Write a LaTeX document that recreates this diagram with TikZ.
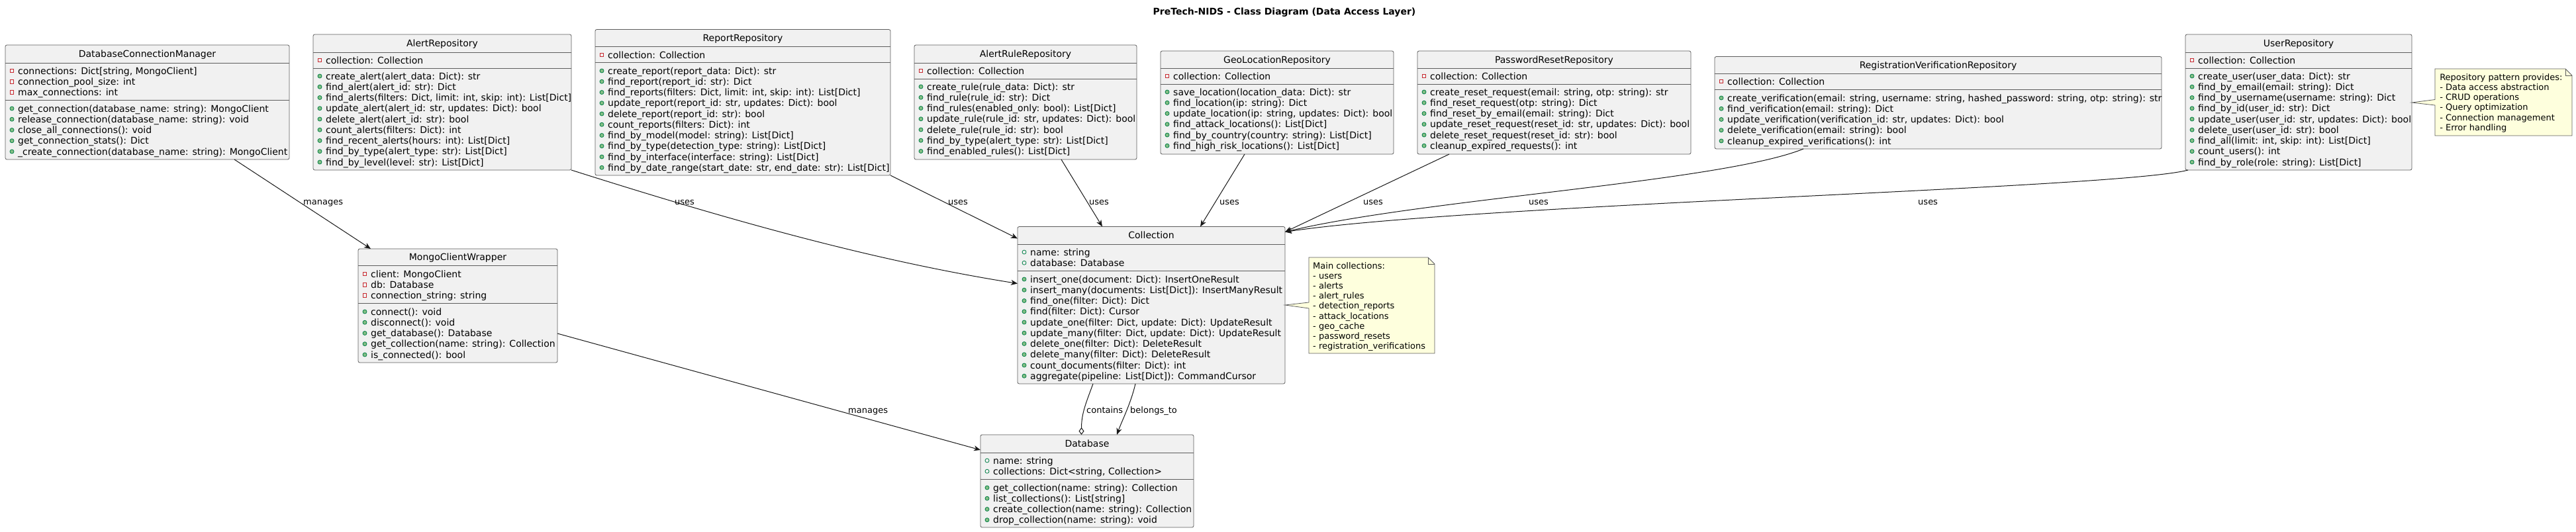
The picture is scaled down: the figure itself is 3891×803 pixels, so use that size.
\documentclass[tikz,border=0pt]{standalone}
\usepackage{fontspec}
\setmainfont{DejaVu Sans}
\usetikzlibrary{arrows.meta,calc}
\definecolor{classfill}{HTML}{F1F1F1}
\definecolor{classline}{HTML}{181818}
\definecolor{notefill}{HTML}{FEFFDD}
\definecolor{privred}{HTML}{C82930}
\definecolor{pubfill}{HTML}{84BE84}
\definecolor{publine}{HTML}{038048}
\catcode`\_=12
\tikzset{
  classbox/.style={rectangle, draw=classline!70, fill=classfill, line width=0.8pt, rounded corners=2.5pt, inner sep=0pt, outer sep=0pt},
  sepline/.style={draw=classline!70, line width=0.8pt},
  classtitle/.style={font=\fontsize{14}{16}\selectfont, inner sep=0pt, anchor=base},
  member/.style={font=\fontsize{14}{16}\selectfont, inner sep=0pt, anchor=base west},
  privicon/.style={draw=privred, line width=0.8pt},
  pubmicon/.style={draw=publine, fill=pubfill, line width=0.8pt},
  pubficon/.style={draw=publine, line width=0.8pt},
  rel/.style={draw=classline, line width=1pt, -{Stealth[length=10pt,width=8pt,inset=3pt]}},
  agg/.style={draw=classline, line width=1pt, -{Diamond[open,length=11pt,width=8pt]}},
  rellabel/.style={font=\fontsize{13}{15}\selectfont, inner sep=0pt, anchor=base west},
  notebox/.style={draw=classline!70, fill=notefill, line width=0.8pt},
  notetext/.style={font=\fontsize{13}{15}\selectfont, inner sep=0pt, anchor=base west},
}
\newcommand\iconpriv[2]{\draw[privicon] ({#1-2.75},{#2-2.75}) rectangle ({#1+2.75},{#2+2.75});}
\newcommand\iconpubm[2]{\draw[pubmicon] ({#1},{#2}) circle[radius=3];}
\newcommand\iconpubf[2]{\draw[pubficon] ({#1},{#2}) circle[radius=3];}
\newcommand\umlclass[8]{%
  \node[classbox, minimum width={(#4)-(#2)}, minimum height={(#7)-(#3)}, anchor=north west] (#1) at (#2,#3) {};
  \draw[sepline] (#2,#5) -- (#4,#5);
  \draw[sepline] (#2,#6) -- (#4,#6);
  \node[classtitle] (#1-title) at ({((#2)+(#4))/2},{((#3)+(#5))/2+5}) {#8};
}
\newcommand\members[5]{%
  \foreach \tx [count=\i] in {#5} {%
    \pgfmathsetmacro\yy{(#3)+(\i-1)*16.25}%
    \pgfmathsetmacro\xx{(#2)+10}%
    #4{\xx}{\yy}%
    \node[member] (#1-\i) at ({(#2)+19},{\yy+5}) {\tx};%
  }%
}
\newcommand\notelines[5]{%
  \foreach \tx [count=\i] in {#5} {%
    \node[notetext] (#1-\i) at ({#2},{(#3)+(\i-1)*(#4)}) {\tx};%
  }%
}
\begin{document}
\begin{tikzpicture}[x=1pt,y=-1pt]
\fill[white] (0,0) rectangle (3891,803);
\useasboundingbox (0,0) rectangle (3891,803);

\node[font=\bfseries\fontsize{14}{16}\selectfont, anchor=base, inner sep=0pt] (title) at (1940,23) {PreTech-NIDS - Class Diagram (Data Access Layer)};

% DatabaseConnectionManager
\umlclass{dcm}{8}{68}{437}{95}{151}{241}{DatabaseConnectionManager}
\members{dcm-a}{8}{107}{\iconpriv}{{connections: Dict[string, MongoClient]},{connection_pool_size: int},{max_connections: int}}
\members{dcm-m}{8}{164}{\iconpubm}{{get_connection(database_name: string): MongoClient},{release_connection(database_name: string): void},{close_all_connections(): void},{get_connection_stats(): Dict},{_create_connection(database_name: string): MongoClient}}

% AlertRepository
\umlclass{alertrepo}{473}{52}{863}{79}{103}{257}{AlertRepository}
\members{alertrepo-a}{473}{91}{\iconpriv}{{collection: Collection}}
\members{alertrepo-m}{473}{115}{\iconpubm}{{create_alert(alert_data: Dict): str},{find_alert(alert_id: str): Dict},{find_alerts(filters: Dict, limit: int, skip: int): List[Dict]},{update_alert(alert_id: str, updates: Dict): bool},{delete_alert(alert_id: str): bool},{count_alerts(filters: Dict): int},{find_recent_alerts(hours: int): List[Dict]},{find_by_type(alert_type: str): List[Dict]},{find_by_level(level: str): List[Dict]}}

% ReportRepository
\umlclass{reportrepo}{899}{44.5}{1345}{70.5}{94.5}{265}{ReportRepository}
\members{reportrepo-a}{899}{83}{\iconpriv}{{collection: Collection}}
\members{reportrepo-m}{899}{107}{\iconpubm}{{create_report(report_data: Dict): str},{find_report(report_id: str): Dict},{find_reports(filters: Dict, limit: int, skip: int): List[Dict]},{update_report(report_id: str, updates: Dict): bool},{delete_report(report_id: str): bool},{count_reports(filters: Dict): int},{find_by_model(model: string): List[Dict]},{find_by_type(detection_type: string): List[Dict]},{find_by_interface(interface: string): List[Dict]},{find_by_date_range(start_date: str, end_date: str): List[Dict]}}

% AlertRuleRepository
\umlclass{rulerepo}{1381}{68}{1717}{95.5}{119}{241}{AlertRuleRepository}
\members{rulerepo-a}{1381}{107}{\iconpriv}{{collection: Collection}}
\members{rulerepo-m}{1381}{131}{\iconpubm}{{create_rule(rule_data: Dict): str},{find_rule(rule_id: str): Dict},{find_rules(enabled_only: bool): List[Dict]},{update_rule(rule_id: str, updates: Dict): bool},{delete_rule(rule_id: str): bool},{find_by_type(alert_type: str): List[Dict]},{find_enabled_rules(): List[Dict]}}

% GeoLocationRepository
\umlclass{georepo}{1753}{77}{2105}{103}{127}{233}{GeoLocationRepository}
\members{georepo-a}{1753}{115}{\iconpriv}{{collection: Collection}}
\members{georepo-m}{1753}{139}{\iconpubm}{{save_location(location_data: Dict): str},{find_location(ip: string): Dict},{update_location(ip: string, updates: Dict): bool},{find_attack_locations(): List[Dict]},{find_by_country(country: string): List[Dict]},{find_high_risk_locations(): List[Dict]}}

% PasswordResetRepository
\umlclass{pwrepo}{2141}{77}{2554}{103}{127}{233}{PasswordResetRepository}
\members{pwrepo-a}{2141}{115}{\iconpriv}{{collection: Collection}}
\members{pwrepo-m}{2141}{139}{\iconpubm}{{create_reset_request(email: string, otp: string): str},{find_reset_request(otp: string): Dict},{find_reset_by_email(email: string): Dict},{update_reset_request(reset_id: str, updates: Dict): bool},{delete_reset_request(reset_id: str): bool},{cleanup_expired_requests(): int}}

% RegistrationVerificationRepository
\umlclass{regrepo}{2590}{85.5}{3265}{111.5}{135}{225}{RegistrationVerificationRepository}
\members{regrepo-a}{2590}{123}{\iconpriv}{{collection: Collection}}
\members{regrepo-m}{2590}{148}{\iconpubm}{{create_verification(email: string, username: string, hashed_password: string, otp: string): str},{find_verification(email: string): Dict},{update_verification(verification_id: str, updates: Dict): bool},{delete_verification(email: string): bool},{cleanup_expired_verifications(): int}}

% UserRepository
\umlclass{userrepo}{3301}{52}{3643}{79}{103}{257}{UserRepository}
\members{userrepo-a}{3301}{91}{\iconpriv}{{collection: Collection}}
\members{userrepo-m}{3301}{115}{\iconpubm}{{create_user(user_data: Dict): str},{find_by_email(email: string): Dict},{find_by_username(username: string): Dict},{find_by_id(user_id: str): Dict},{update_user(user_id: str, updates: Dict): bool},{delete_user(user_id: str): bool},{find_all(limit: int, skip: int): List[Dict]},{count_users(): int},{find_by_role(role: string): List[Dict]}}

% MongoClientWrapper
\umlclass{mongo}{541}{376}{842}{401.5}{458}{548}{MongoClientWrapper}
\members{mongo-a}{541}{414}{\iconpriv}{{client: MongoClient},{db: Database},{connection_string: string}}
\members{mongo-m}{541}{471}{\iconpubm}{{connect(): void},{disconnect(): void},{get_database(): Database},{get_collection(name: string): Collection},{is_connected(): bool}}

% Collection
\umlclass{coll}{1537}{342.5}{1941}{369}{409}{580}{Collection}
\members{coll-a}{1537}{381}{\iconpubf}{{name: string},{database: Database}}
\members{coll-m}{1537}{422}{\iconpubm}{{insert_one(document: Dict): InsertOneResult},{insert_many(documents: List[Dict]): InsertManyResult},{find_one(filter: Dict): Dict},{find(filter: Dict): Cursor},{update_one(filter: Dict, update: Dict): UpdateResult},{update_many(filter: Dict, update: Dict): UpdateResult},{delete_one(filter: Dict): DeleteResult},{delete_many(filter: Dict): DeleteResult},{count_documents(filter: Dict): int},{aggregate(pipeline: List[Dict]): CommandCursor}}

% Database
\umlclass{db}{1481}{657}{1803}{684}{724}{797}{Database}
\members{db-a}{1481}{696}{\iconpubf}{{name: string},{collections: Dict<string, Collection>}}
\members{db-m}{1481}{737}{\iconpubm}{{get_collection(name: string): Collection},{list_collections(): List[string]},{create_collection(name: string): Collection},{drop_collection(name: string): void}}

% Connectors
\draw[rel] ($(dcm.south west)+(346,0)$) -- ($(mongo.north west)+(19,0)$);
\draw[rel] (alertrepo.south east) .. controls +(227,72) and +(-226,-36) .. ($(coll.north west)+(0,86)$);
\draw[rel] (reportrepo.south east) -- ($(coll.north west)+(0,18)$);
\draw[rel] ($(rulerepo.south west)+(222,0)$) -- ($(coll.north west)+(128,0)$);
\draw[rel] ($(georepo.south west)+(127,0)$) -- ($(coll.north west)+(276,0)$);
\draw[rel] ($(pwrepo.south west)+(48,0)$) -- ($(coll.north east)+(0,8)$);
\draw[rel] ($(regrepo.south west)+(134,0)$) .. controls +(-124,50) and +(209,-50) .. ($(coll.north east)+(0,8)$);
\draw[rel] ($(userrepo.south west)+(4,0)$) .. controls +(-105,28) and +(279,-42) .. ($(coll.north east)+(0,8)$);
\draw[rel] ($(mongo.north east)+(0,128)$) -- ($(db.north west)+(0,23)$);
\draw[agg] ($(coll.south west)+(114,0)$) .. controls +(-11,30) and +(0,-32) .. ($(db.north west)+(152.5,0)$);
\draw[rel] ($(coll.south west)+(178,0)$) .. controls +(-7,30) and +(8,-22) .. ($(db.north west)+(206,0)$);

% Connector labels
\node[rellabel] (lbl-manages1) at (458,309) {manages};
\node[rellabel] (lbl-uses1) at (1019,309) {uses};
\node[rellabel] (lbl-uses2) at (1432,309) {uses};
\node[rellabel] (lbl-uses3) at (1645,309) {uses};
\node[rellabel] (lbl-uses4) at (1842,309) {uses};
\node[rellabel] (lbl-uses5) at (2059,309) {uses};
\node[rellabel] (lbl-uses6) at (2309,309) {uses};
\node[rellabel] (lbl-uses7) at (2897,309) {uses};
\node[rellabel] (lbl-manages2) at (1281,624) {manages};
\node[rellabel] (lbl-contains) at (1641,624) {contains};
\node[rellabel] (lbl-belongs) at (1707,624) {belongs_to};

% Note on Collection
\draw[notebox] (1977,389) -- (2157,389) -- (2167,399) -- (2167,534) -- (1977,534) -- (1977,466) -- ($(coll.north east)+(0,118.5)$) -- (1977,457) -- cycle;
\draw[notebox, fill=none] (2157,389) -- (2157,399) -- (2167,399);
\notelines{collnote}{1983}{406.5}{15.1}{{Main collections:},{- users},{- alerts},{- alert_rules},{- detection_reports},{- attack_locations},{- geo_cache},{- password_resets},{- registration_verifications}}

% Note on UserRepository
\draw[notebox] (3678,104) -- (3875,104) -- (3885,114) -- (3885,205) -- (3678,205) -- (3678,159) -- ($(userrepo.north east)+(0,103)$) -- (3678,150.5) -- cycle;
\draw[notebox, fill=none] (3875,104) -- (3875,114) -- (3885,114);
\notelines{usernote}{3685}{121.5}{15.15}{{Repository pattern provides:},{- Data access abstraction},{- CRUD operations},{- Query optimization},{- Connection management},{- Error handling}}
\end{tikzpicture}
\end{document}
